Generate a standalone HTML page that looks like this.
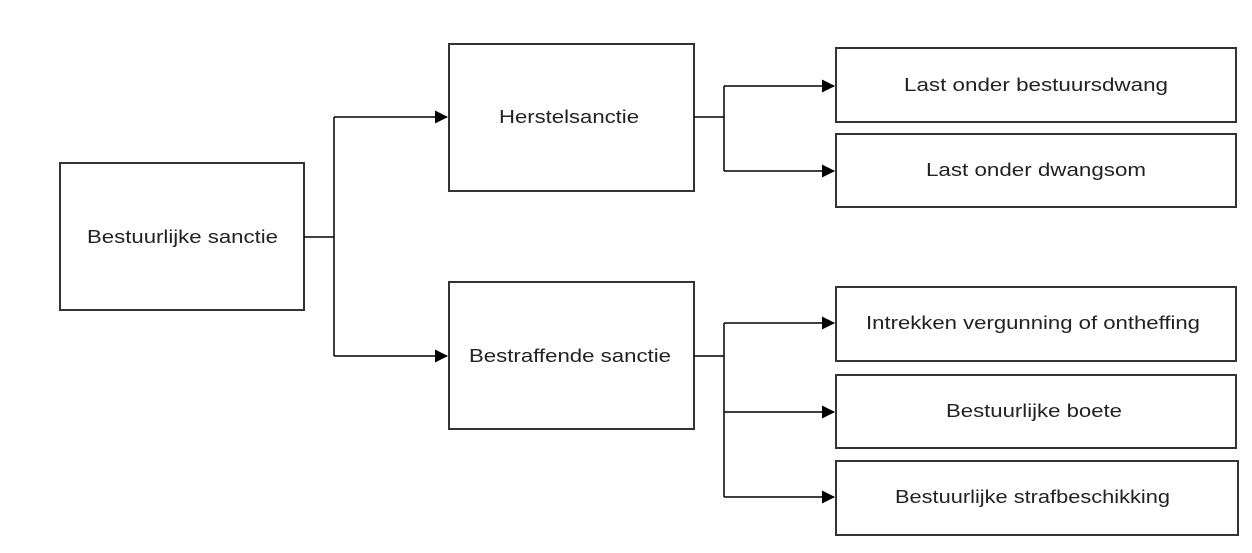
<!DOCTYPE html>
<html><head><meta charset="utf-8"><style>
html,body{margin:0;padding:0;background:#fff;width:1252px;height:553px;overflow:hidden}
svg text{font-family:"Liberation Sans",Arial,sans-serif;font-size:18px;fill:#222}
</style></head><body>
<svg width="1252" height="553" viewBox="0 0 1252 553" xmlns="http://www.w3.org/2000/svg">
<defs><marker id="a" markerWidth="13" markerHeight="13" refX="12" refY="6.5" orient="auto" markerUnits="userSpaceOnUse"><path d="M0,0 L13,6.5 L0,13z" fill="#000"/></marker></defs>
<g fill="none" stroke="#333" stroke-width="2">
<rect x="60" y="163" width="244" height="147"/>
<rect x="449" y="44" width="245" height="147"/>
<rect x="449" y="282" width="245" height="147"/>
<rect x="836" y="48" width="400" height="74"/>
<rect x="836" y="134" width="400" height="73"/>
<rect x="836" y="287" width="400" height="74"/>
<rect x="836" y="375" width="400" height="73"/>
<rect x="836" y="461" width="402" height="74"/>
</g>
<g fill="none" stroke="#000" stroke-width="1.5">
<path d="M304 237H334M334 117V356"/>
<path d="M334 117H447" marker-end="url(#a)"/>
<path d="M334 356H447" marker-end="url(#a)"/>
<path d="M694 117H724M724 86V171"/>
<path d="M724 86H834" marker-end="url(#a)"/>
<path d="M724 171H834" marker-end="url(#a)"/>
<path d="M694 356H724M724 323V497"/>
<path d="M724 323H834" marker-end="url(#a)"/>
<path d="M724 412H834" marker-end="url(#a)"/>
<path d="M724 497H834" marker-end="url(#a)"/>
</g>
<g>
<text x="87" y="243" textLength="191" lengthAdjust="spacingAndGlyphs">Bestuurlijke sanctie</text>
<text x="499" y="123" textLength="140" lengthAdjust="spacingAndGlyphs">Herstelsanctie</text>
<text x="469" y="362" textLength="202" lengthAdjust="spacingAndGlyphs">Bestraffende sanctie</text>
<text x="904" y="91" textLength="264" lengthAdjust="spacingAndGlyphs">Last onder bestuursdwang</text>
<text x="926" y="176" textLength="220" lengthAdjust="spacingAndGlyphs">Last onder dwangsom</text>
<text x="866" y="329" textLength="334" lengthAdjust="spacingAndGlyphs">Intrekken vergunning of ontheffing</text>
<text x="946" y="417" textLength="176" lengthAdjust="spacingAndGlyphs">Bestuurlijke boete</text>
<text x="895" y="503" textLength="275" lengthAdjust="spacingAndGlyphs">Bestuurlijke strafbeschikking</text>
</g>
</svg>
</body></html>
